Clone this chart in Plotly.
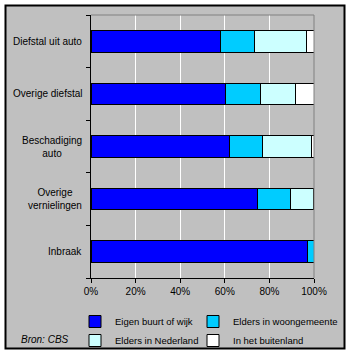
import plotly.graph_objects as go

categories = ["Diefstal uit auto", "Overige diefstal", "Beschadiging<br>auto", "Overige<br>vernielingen", "Inbraak"]
series_names = ["Eigen buurt of wijk", "Elders in woongemeente", "Elders in Nederland", "In het buitenland"]
eigen = [58.0, 60.4, 62.2, 74.7, 97.0]
woongemeente = [15.2, 15.5, 14.6, 14.7, 3.0]
nederland = [23.4, 15.7, 22.0, 10.3, 0.0]
buitenland = [3.4, 8.4, 1.2, 0.3, 0.0]
colors = ["#0000FF", "#00CCFF", "#CCFFFF", "#FFFFFF"]
x_ticks = [0, 20, 40, 60, 80, 100]

L, R, T, B, W, H = 91, 38, 15, 78, 352, 356
pw, ph = W - L - R, H - T - B
def px(x): return (x - L) / pw
def py(y): return (H - B - y) / ph

legend_ids = ["legend", "legend2", "legend", "legend2"]

fig = go.Figure()
for name, vals, col, lg in zip(series_names, [eigen, woongemeente, nederland, buitenland], colors, legend_ids):
    fig.add_trace(go.Bar(
        y=list(range(len(categories))), x=vals, name=name, orientation="h",
        marker=dict(color=col, line=dict(color="black", width=1)), legend=lg,
    ))

FAM = "Liberation Sans, Arial"
font = dict(family=FAM, size=10, color="black")
legfont = dict(family=FAM, size=9.5, color="black")

annotations = []
for i, c in enumerate(categories):
    annotations.append(dict(x=0, xref="paper", y=i, yref="y", text=c, showarrow=False,
                            xanchor="right", xshift=-7, align="center", font=font))
annotations.append(dict(x=px(19), xref="paper", y=py(339), yref="paper", text="<i>Bron: CBS</i>",
                        showarrow=False, xanchor="left", yanchor="middle", font=font))

shapes = [
    dict(type="rect", xref="paper", yref="paper", x0=px(5.5), x1=px(344.5), y0=py(348.5), y1=py(5.5),
         fillcolor="#C0C0C0", line=dict(color="black", width=2), layer="below"),
    dict(type="line", xref="paper", yref="paper", x0=0, x1=1, y0=1, y1=1, line=dict(color="#808080", width=1)),
    dict(type="line", xref="paper", yref="paper", x0=1, x1=1, y0=0, y1=1, line=dict(color="#808080", width=1)),
]

leg_common = dict(orientation="v", xanchor="left", yanchor="top", bgcolor="rgba(0,0,0,0)",
                  font=legfont, traceorder="normal", tracegroupgap=0, itemwidth=30)

fig.update_layout(
    barmode="stack", bargap=0.59,
    width=W, height=H, margin=dict(l=L, r=R, t=T, b=B, autoexpand=False),
    paper_bgcolor="white", plot_bgcolor="rgba(0,0,0,0)",
    font=font, showlegend=True,
    legend=dict(x=px(75), y=py(307), **leg_common),
    legend2=dict(x=px(193), y=py(307), **leg_common),
    xaxis=dict(range=[0, 100], tickvals=x_ticks, ticktext=[f"{v}%" for v in x_ticks],
               showgrid=True, gridcolor="white", gridwidth=1, zeroline=False,
               showline=True, linecolor="black", linewidth=1, ticks="outside", ticklen=4,
               tickcolor="black", tickfont=font),
    yaxis=dict(range=[4.5, -0.5], tickmode="array", tickvals=[-0.5, 0.5, 1.5, 2.5, 3.5, 4.5],
               ticktext=[""] * 6, showgrid=False, zeroline=False, showline=True,
               linecolor="black", linewidth=1, ticks="outside", ticklen=4, tickcolor="black"),
    annotations=annotations, shapes=shapes,
)

fig.write_html("out.html")
